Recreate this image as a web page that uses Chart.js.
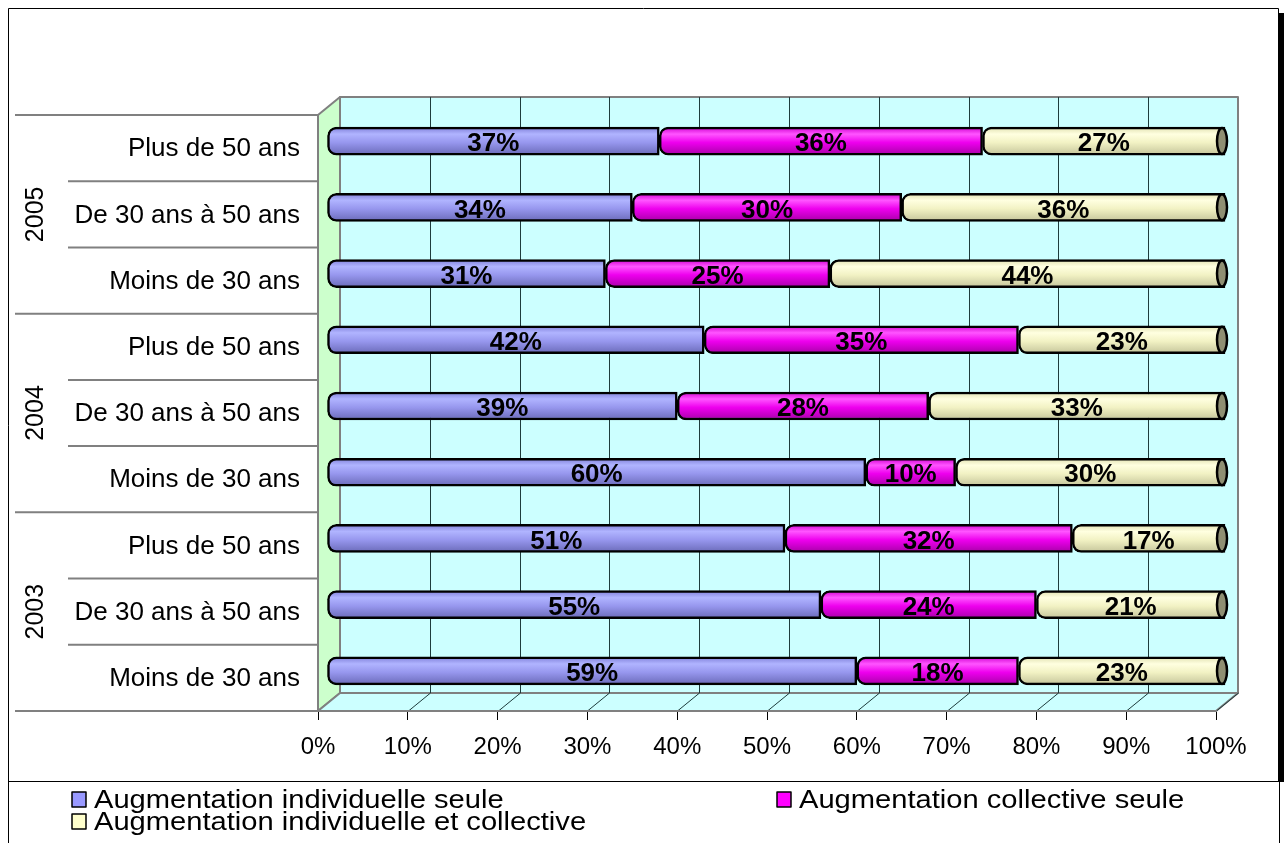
<!DOCTYPE html>
<html>
<head>
<meta charset="utf-8">
<script src="https://cdn.jsdelivr.net/npm/chart.js@4.4.1/dist/chart.umd.min.js"></script>
<style>
  html, body { margin: 0; padding: 0; background: #fff; }
  #wrap { width: 1288px; height: 843px; }
</style>
</head>
<body>
<div id="wrap"><canvas id="mycanvas"></canvas></div>
<script>
// categories, top to bottom
var categories = ['Plus de 50 ans', 'De 30 ans à 50 ans', 'Moins de 30 ans',
                  'Plus de 50 ans', 'De 30 ans à 50 ans', 'Moins de 30 ans',
                  'Plus de 50 ans', 'De 30 ans à 50 ans', 'Moins de 30 ans'];
var years = ['2005', '2004', '2003'];
var seriesNames = ['Augmentation individuelle seule', 'Augmentation collective seule', 'Augmentation individuelle et collective'];
var individuelle = [37, 34, 31, 42, 39, 60, 51, 55, 59];
var collective   = [36, 30, 25, 35, 28, 10, 32, 24, 18];
var lesDeux      = [27, 36, 44, 23, 33, 30, 17, 21, 23];
var xTicks = [0, 10, 20, 30, 40, 50, 60, 70, 80, 90, 100];

var DX = 22, DY = -18;       // depth of the 3D box
var BX = 9, BY = -7;         // bars sit mid-depth
var FONT = '"Liberation Sans", Arial, sans-serif';

var gradStops = [
  [[0, '#7f7fd8'], [0.25, '#b0b4ff'], [0.55, '#9797ee'], [1, '#6a6ab8']],
  [[0, '#d000d0'], [0.25, '#ff55ff'], [0.55, '#ee00ee'], [1, '#a800a8']],
  [[0, '#e0e0b0'], [0.25, '#ffffe0'], [0.55, '#f2f2c4'], [1, '#c4c49a']]
];
var legendColors = ['#9999ff', '#ff00ff', '#ffffcc'];

function cylFill(i) {
  return function(context) {
    var chart = context.chart;
    if (!chart.chartArea || !chart.scales.y || context.dataIndex === undefined) return legendColors[i];
    var y = chart.scales.y.getPixelForValue(context.dataIndex);
    if (!isFinite(y)) return legendColors[i];
    var g = chart.ctx.createLinearGradient(0, y - 14, 0, y + 14);
    gradStops[i].forEach(function(s){ g.addColorStop(s[0], s[1]); });
    return g;
  };
}

var box3d = {
  id: 'box3d',
  beforeDraw: function(chart) {
    var ctx = chart.ctx, a = chart.chartArea;
    var x = chart.scales.x;
    ctx.save();
    ctx.fillStyle = '#fff';
    ctx.fillRect(0, 0, chart.width, chart.height);
    // outer frame
    ctx.strokeStyle = '#000'; ctx.lineWidth = 1;
    ctx.beginPath();
    ctx.moveTo(8.5, 843); ctx.lineTo(8.5, 8.5); ctx.lineTo(1278.5, 8.5); ctx.lineTo(1278.5, 13);
    ctx.stroke();
    ctx.fillStyle = '#000';
    ctx.fillRect(1278, 13, 6, 768);
    ctx.beginPath();
    ctx.moveTo(8, 781.5); ctx.lineTo(1284, 781.5);
    ctx.moveTo(1279.5, 781); ctx.lineTo(1279.5, 843);
    ctx.stroke();

    ctx.strokeStyle = '#808080'; ctx.lineWidth = 2; ctx.lineJoin = 'round';
    // back wall
    ctx.fillStyle = '#ccffff';
    ctx.fillRect(a.left + DX, a.top + DY, a.right - a.left, a.bottom - a.top);
    ctx.strokeRect(a.left + DX, a.top + DY, a.right - a.left, a.bottom - a.top);
    // side wall
    ctx.fillStyle = '#ccffcc';
    ctx.beginPath();
    ctx.moveTo(a.left, a.top); ctx.lineTo(a.left + DX, a.top + DY);
    ctx.lineTo(a.left + DX, a.bottom + DY); ctx.lineTo(a.left, a.bottom); ctx.closePath();
    ctx.fill(); ctx.stroke();
    // floor
    ctx.fillStyle = '#ccffff';
    ctx.beginPath();
    ctx.moveTo(a.left, a.bottom); ctx.lineTo(a.left + DX, a.bottom + DY);
    ctx.lineTo(a.right + DX, a.bottom + DY); ctx.lineTo(a.right, a.bottom); ctx.closePath();
    ctx.fill(); ctx.stroke();
    // gridlines
    ctx.strokeStyle = '#1e3c3c'; ctx.lineWidth = 1;
    ctx.beginPath();
    xTicks.forEach(function(v) {
      if (v === 0) return;
      var px = Math.round(x.getPixelForValue(v)) + 0.5;
      if (v < 100) {
        ctx.moveTo(px + DX, a.top + DY); ctx.lineTo(px + DX, a.bottom + DY);
      }
      ctx.moveTo(px, a.bottom); ctx.lineTo(px + DX, a.bottom + DY);
    });
    ctx.stroke();

    // category labels and separators
    var y = chart.scales.y;
    var step = (a.bottom - a.top) / categories.length;
    ctx.strokeStyle = '#808080'; ctx.lineWidth = 2;
    ctx.beginPath();
    for (var k = 0; k <= categories.length; k++) {
      var yy = a.top + k * step;
      ctx.moveTo(k % 3 === 0 ? 15 : 68, yy); ctx.lineTo(a.left, yy);
    }
    ctx.stroke();
    ctx.fillStyle = '#000';
    ctx.font = '26px ' + FONT;
    ctx.textAlign = 'right'; ctx.textBaseline = 'middle';
    categories.forEach(function(c, i) {
      ctx.fillText(c, 300, y.getPixelForValue(i) + 1);
    });
    ctx.font = '25px ' + FONT;
    ctx.textAlign = 'center';
    years.forEach(function(yr, g) {
      var cy = (y.getPixelForValue(g * 3) + y.getPixelForValue(g * 3 + 2)) / 2;
      ctx.save();
      ctx.translate(36, cy);
      ctx.rotate(-Math.PI / 2);
      ctx.fillText(yr, 0, 0);
      ctx.restore();
    });

    // legend (text is slightly stretched, as in the original)
    ctx.font = '26px ' + FONT;
    ctx.textAlign = 'left';
    var items = [[72, 800], [777, 800], [72, 822]];
    items.forEach(function(p, i) {
      ctx.fillStyle = legendColors[i];
      ctx.fillRect(p[0], p[1] - 8, 14, 15);
      ctx.strokeStyle = '#000'; ctx.lineWidth = 1.5;
      ctx.strokeRect(p[0], p[1] - 8, 14, 15);
      ctx.fillStyle = '#000';
      ctx.save();
      ctx.translate(p[0] + 22, p[1] + 1);
      ctx.scale(1.12, 1);
      ctx.fillText(seriesNames[i], 0, 0);
      ctx.restore();
    });
    ctx.restore();
  },
  beforeDatasetsDraw: function(chart) {
    chart.ctx.save();
    chart.ctx.translate(BX, BY);
  },
  afterDatasetsDraw: function(chart) {
    var ctx = chart.ctx;
    // end caps of the cylinders
    var last = chart.getDatasetMeta(2);
    last.data.forEach(function(bar) {
      ctx.beginPath();
      ctx.ellipse(bar.x - 3, bar.y, 5, bar.height / 2 - 1, 0, 0, Math.PI * 2);
      ctx.fillStyle = '#8f8f72';
      ctx.fill();
      ctx.lineWidth = 2.5; ctx.strokeStyle = '#000';
      ctx.stroke();
    });
    // value labels
    ctx.font = 'bold 26px ' + FONT;
    ctx.fillStyle = '#000';
    ctx.textAlign = 'center'; ctx.textBaseline = 'middle';
    chart.data.datasets.forEach(function(ds, i) {
      chart.getDatasetMeta(i).data.forEach(function(bar, j) {
        var c = bar.getCenterPoint();
        ctx.fillText(ds.data[j] + '%', c.x, c.y + 3);
      });
    });
    ctx.restore();
  }
};

var ctx = document.getElementById('mycanvas');
var chart = new Chart(ctx, {
  type: 'bar',
  data: {
    labels: categories,
    datasets: [
      { label: seriesNames[0], data: individuelle, backgroundColor: cylFill(0) },
      { label: seriesNames[1], data: collective, backgroundColor: cylFill(1) },
      { label: seriesNames[2], data: lesDeux, backgroundColor: cylFill(2) }
    ]
  },
  options: {
    indexAxis: 'y',
    responsive: true,
    maintainAspectRatio: false,
    animation: false,
    layout: { padding: { left: 318, right: 72, top: 115, bottom: 82 } },
    datasets: {
      bar: {
        barThickness: 28,
        borderColor: '#000',
        borderWidth: 2.5,
        borderRadius: { topLeft: 9, bottomLeft: 9, topRight: 0, bottomRight: 0 },
        borderSkipped: false,
        clip: false
      }
    },
    plugins: {
      legend: { display: false },
      tooltip: { enabled: false }
    },
    scales: {
      x: {
        stacked: true,
        min: 0,
        max: 100,
        afterFit: function(scale) { scale.height = 50; },
        afterBuildTicks: function(scale) {
          scale.ticks = xTicks.map(function(v){ return { value: v }; });
        },
        ticks: {
          color: '#000',
          padding: 13,
          maxRotation: 0,
          font: { family: FONT, size: 24 },
          callback: function(v) { return v + '%'; }
        },
        grid: { drawOnChartArea: false, drawTicks: true, tickLength: 9, color: '#000' },
        border: { display: true, color: '#808080', width: 2 }
      },
      y: {
        stacked: true,
        display: false
      }
    }
  },
  plugins: [box3d]
});
</script>
</body>
</html>
